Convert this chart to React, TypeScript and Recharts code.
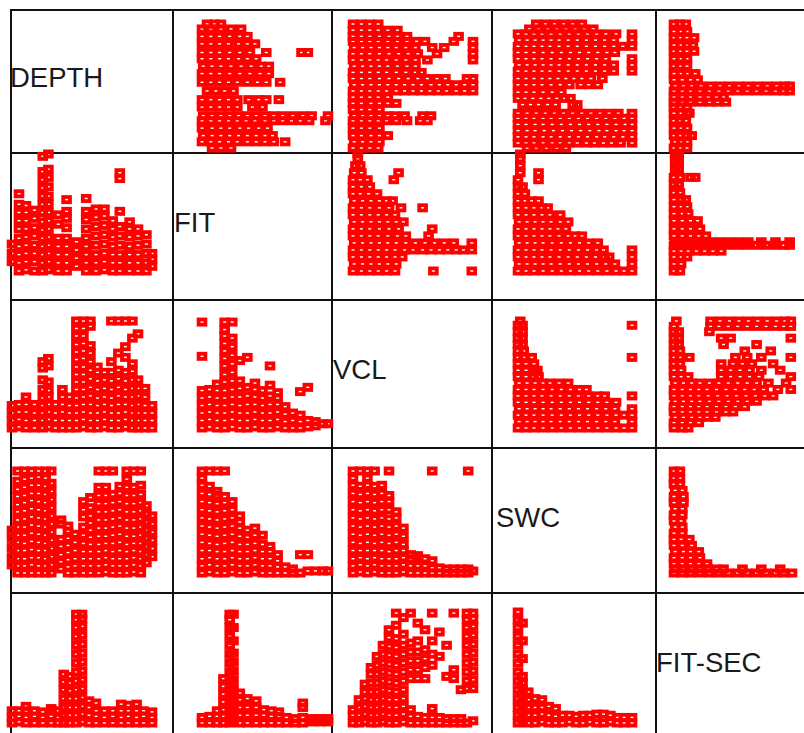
import { Scatter, ScatterChart, XAxis, YAxis } from "recharts";

const VARIABLES = ["DEPTH", "FIT", "VCL", "SWC", "FIT-SEC"];

// each column: [value of the lower-index variable, values of the higher-index variable]
type Column = [number, number[]];

const DEPTH_FIT: Column[] = [
	[0, [8, 15, 23]],
	[5, [0, 7, 14, 21, 28, 36, 43, 50, 57, 66]],
	[10, [1, 8, 15, 22, 29, 36, 43, 50, 56]],
	[16, [0, 8, 15, 22, 30, 37, 45, 52]],
	[22, [0, 7, 14, 21, 28, 35, 42, 50, 57, 64, 71, 78, 85, 98]],
	[26, [1, 8, 15, 22, 29, 36, 43, 50, 57, 64, 72, 80, 87, 100]],
	[33, [0, 7, 14, 21, 28, 40, 48]],
	[39, [0, 7, 14, 21, 28, 37, 45, 51, 61]],
	[46, [4, 11, 18, 25]],
	[53, [0, 7, 14, 21, 28, 36, 44, 51, 62]],
	[60, [0, 7, 14, 22, 30, 38, 46, 53]],
	[66, [1, 8, 15, 23, 31, 39, 47, 53]],
	[72, [0, 7, 14, 21, 29, 36, 43]],
	[77, [0, 7, 14, 22, 30, 38, 51, 79, 84]],
	[84, [0, 7, 14, 21, 29, 36, 42]],
	[90, [0, 7, 14, 22, 30, 36]],
	[96, [0, 7, 15, 23, 31]],
	[100, [4, 10, 15]],
];

const DEPTH_VCL: Column[] = [
	[0, [0, 7, 14, 21]],
	[5, [1, 8, 15, 22]],
	[10, [0, 7, 15, 22, 29]],
	[16, [0, 7, 14, 22]],
	[22, [0, 7, 14, 21, 28, 36, 45, 56, 62]],
	[26, [1, 8, 15, 22, 29, 35, 43, 58, 65]],
	[31, [0, 7, 14, 22]],
	[36, [0, 7, 15, 22, 29, 36]],
	[41, [0, 7, 14, 21, 29]],
	[46, [0, 7, 14, 21, 28, 36, 43, 50, 57, 64, 71, 78, 86, 93, 100]],
	[51, [1, 8, 15, 22, 29, 36, 43, 50, 57, 65, 72, 79, 86, 93, 100]],
	[56, [0, 7, 14, 22, 30, 38, 46, 54, 62, 70, 77, 95, 100]],
	[61, [0, 7, 14, 21, 28, 36, 44, 52, 57]],
	[66, [1, 8, 15, 22, 29, 37, 45, 52]],
	[71, [0, 7, 14, 21, 28, 36, 44, 52, 62, 100]],
	[76, [0, 7, 14, 22, 30, 38, 46, 54, 70, 100]],
	[81, [1, 8, 15, 22, 29, 36, 44, 52, 66, 76, 100]],
	[86, [0, 7, 14, 21, 29, 37, 45, 53, 60, 84, 100]],
	[90, [0, 7, 14, 22, 30, 37, 45, 88]],
	[95, [0, 7, 14, 21, 29, 37]],
	[100, [0, 7, 14, 21]],
];

const DEPTH_SWC: Column[] = [
	[0, [8, 16, 25, 34, 42]],
	[4, [0, 7, 14, 22, 30, 37, 45, 52, 60, 67, 75, 82, 90, 100]],
	[9, [0, 7, 14, 22, 29, 37, 45, 53, 61, 69, 76, 84, 92, 100]],
	[14, [0, 8, 15, 23, 31, 39, 47, 55, 63, 71, 78, 86, 93, 100]],
	[19, [0, 7, 15, 22, 30, 38, 46, 54, 62, 70, 78, 86, 94, 100]],
	[24, [0, 7, 14, 22, 29, 37, 45, 53, 61, 69, 77, 85, 93, 100]],
	[28, [0, 8, 16, 24, 32, 40, 48, 56, 64, 72, 80, 88, 100]],
	[35, [4, 11, 18, 26, 33, 48, 52]],
	[40, [0, 6, 13, 20, 27, 34, 41, 46]],
	[45, [0, 7, 14, 22, 30, 38]],
	[51, [0, 7, 14, 21, 29, 37, 45, 55, 62, 70]],
	[56, [0, 7, 14, 21, 28, 35, 42, 49, 56, 64, 74]],
	[62, [0, 7, 14, 21, 28, 36, 44, 52, 60, 68, 76, 84, 100]],
	[67, [1, 8, 15, 22, 29, 36, 44, 52, 60, 68, 76, 84, 100]],
	[72, [0, 7, 14, 21, 29, 37, 45, 53, 61, 69, 77, 100]],
	[77, [0, 7, 14, 22, 30, 38, 46, 54, 62, 70, 78, 85]],
	[82, [0, 7, 14, 21, 28, 36, 44, 52, 60, 68, 76, 84, 92, 100]],
	[87, [1, 8, 15, 22, 29, 36, 44, 52, 60, 68, 76, 84, 100]],
	[92, [0, 7, 14, 21, 29, 37, 45, 53, 61, 69, 77, 86, 100]],
	[96, [10, 18, 26, 34, 42, 50, 58, 66]],
	[100, [16, 24, 32, 40, 48, 56]],
];

const DEPTH_FITSEC: Column[] = [
	[0, [0, 5, 11]],
	[5, [1, 6, 11]],
	[10, [0, 5, 11, 15]],
	[16, [0, 6, 11]],
	[22, [0, 5, 10]],
	[28, [0, 6, 11, 13]],
	[33, [0, 5, 11]],
	[37, [0, 7, 14, 22, 30, 37, 44]],
	[41, [0, 7, 14, 22, 29, 36, 42]],
	[46, [0, 7, 14, 22, 30, 38, 46, 54, 62, 70, 78, 86, 93, 98]],
	[50, [1, 8, 15, 23, 31, 39, 47, 55, 63, 71, 79, 87, 94, 98]],
	[55, [0, 7, 14, 20]],
	[60, [0, 6, 11, 18]],
	[66, [0, 5, 11]],
	[72, [0, 6, 11]],
	[78, [0, 5, 11, 17]],
	[83, [0, 6, 11, 16]],
	[89, [0, 5, 11, 17]],
	[94, [0, 6, 11]],
	[100, [0, 5, 10]],
];

const FIT_VCL: Column[] = [
	[0, [0, 7, 14, 21, 28, 35, 67, 99]],
	[6, [1, 8, 15, 22, 29, 36]],
	[12, [0, 7, 14, 21, 28, 35, 41]],
	[18, [0, 7, 14, 21, 28, 35, 43, 50, 58, 65, 72, 79, 86, 92, 99]],
	[24, [1, 8, 15, 22, 29, 36, 44, 52, 60, 68, 76, 84, 99]],
	[30, [0, 7, 14, 21, 29, 37, 44, 63]],
	[36, [0, 7, 14, 22, 30, 38, 66]],
	[42, [1, 8, 15, 22, 29, 36, 42]],
	[48, [0, 7, 14, 21, 28, 35]],
	[54, [0, 7, 14, 22, 30, 40, 58]],
	[60, [1, 8, 15, 22, 28, 33]],
	[66, [0, 6, 13, 20]],
	[72, [0, 7, 14]],
	[78, [0, 6, 12, 34]],
	[84, [1, 7, 38]],
	[90, [2, 6]],
	[96, [4]],
	[100, [4]],
];

const FIT_SWC: Column[] = [
	[0, [0, 7, 14, 22, 30, 38, 46, 54, 62, 70, 78, 86, 93, 100]],
	[6, [1, 8, 15, 22, 29, 37, 45, 53, 61, 69, 77, 85, 100]],
	[12, [0, 7, 14, 21, 28, 36, 44, 52, 60, 68, 76, 80, 100]],
	[18, [0, 7, 14, 21, 29, 37, 45, 53, 61, 69, 75, 100]],
	[24, [1, 8, 15, 22, 30, 38, 46, 54, 62, 70]],
	[30, [0, 7, 14, 21, 28, 36, 44, 50, 56]],
	[36, [0, 7, 14, 21, 28, 35, 42]],
	[42, [1, 8, 15, 22, 29, 37, 44]],
	[48, [0, 7, 14, 21, 28, 37]],
	[54, [0, 7, 14, 21, 26]],
	[60, [0, 6, 12, 18]],
	[66, [0, 6]],
	[72, [0, 4]],
	[78, [0, 18]],
	[84, [2, 18]],
	[90, [2]],
	[96, [2]],
	[100, [2]],
];

const FIT_FITSEC: Column[] = [
	[0, [0, 5]],
	[6, [0, 6]],
	[12, [0, 6, 11]],
	[17, [0, 6, 12, 19, 26, 33, 40]],
	[22, [0, 7, 14, 22, 30, 38, 46, 54, 62, 70, 78, 86, 93, 98]],
	[25, [1, 8, 15, 23, 31, 39, 47, 55, 63, 74, 86, 98]],
	[30, [0, 7, 14, 21, 27]],
	[36, [0, 7, 14, 22]],
	[43, [0, 7, 14, 20]],
	[49, [0, 7, 12]],
	[55, [0, 6, 11]],
	[61, [0, 6, 10]],
	[67, [0, 5]],
	[74, [0, 4]],
	[80, [0, 5, 14, 18]],
	[87, [1, 4]],
	[94, [1, 4]],
	[100, [1, 4]],
];

const VCL_SWC: Column[] = [
	[0, [0, 7, 14, 22, 30, 38, 46, 54, 62, 70, 78, 86, 93, 100]],
	[6, [1, 8, 15, 22, 29, 37, 45, 53, 61, 69, 77, 85, 100]],
	[12, [0, 7, 14, 22, 30, 38, 46, 54, 62, 70, 78, 86, 93, 100]],
	[18, [1, 8, 15, 22, 29, 37, 45, 53, 61, 69, 77, 85, 100]],
	[24, [0, 7, 14, 22, 30, 38, 46, 54, 62, 70, 78, 86]],
	[30, [0, 7, 14, 21, 29, 37, 45, 53, 62, 70, 76, 100]],
	[36, [0, 7, 14, 22, 30, 38, 46, 54, 60]],
	[42, [1, 8, 15, 22, 28, 36, 44]],
	[48, [0, 7, 14, 18]],
	[54, [0, 7, 14, 17]],
	[60, [0, 7, 14]],
	[66, [0, 5, 12, 100]],
	[72, [0, 5]],
	[78, [0, 4]],
	[84, [0, 4]],
	[90, [0, 4]],
	[96, [0, 4, 100]],
	[100, [2]],
];

const VCL_FITSEC: Column[] = [
	[0, [0, 7, 12]],
	[5, [0, 7, 14, 21]],
	[10, [1, 8, 15, 22, 28, 35]],
	[15, [0, 7, 14, 21, 28, 36, 44, 50]],
	[20, [0, 7, 14, 21, 28, 36, 44, 52, 60]],
	[25, [1, 8, 15, 22, 30, 38, 46, 54, 62, 70]],
	[30, [0, 7, 14, 21, 29, 37, 45, 53, 61, 69, 77, 84]],
	[36, [0, 7, 14, 21, 28, 36, 44, 52, 60, 68, 76, 88, 99]],
	[42, [1, 8, 15, 22, 30, 38, 46, 54, 62, 70, 80, 95]],
	[48, [0, 6, 12, 40, 48, 56, 64, 72, 99]],
	[54, [0, 6, 40, 48, 56, 64, 74, 90]],
	[60, [0, 5, 40, 50, 58, 66, 84]],
	[66, [0, 5, 13, 52, 62, 74, 99]],
	[72, [0, 5, 60, 82]],
	[78, [0, 4, 42, 70]],
	[84, [0, 4, 40, 48, 99]],
	[90, [0, 4, 30]],
	[95, [0, 31, 38, 46, 54, 62, 70, 78, 86, 93, 99]],
	[100, [2, 31, 39, 47, 55, 63, 71, 79, 87, 94, 99]],
];

const SWC_FITSEC: Column[] = [
	[0, [0, 7, 14, 22, 30, 38, 46, 54, 62, 70, 78, 86, 93, 100]],
	[4, [1, 8, 15, 22, 29, 36, 42, 58, 74, 90]],
	[9, [0, 7, 14, 21, 28]],
	[15, [0, 7, 14, 22]],
	[21, [1, 8, 14, 21]],
	[27, [0, 7, 15]],
	[33, [0, 6, 13]],
	[39, [0, 7]],
	[45, [1, 7]],
	[51, [0, 6]],
	[57, [0, 7]],
	[63, [1, 7]],
	[69, [0, 8]],
	[75, [0, 8]],
	[81, [1, 7]],
	[87, [0, 5]],
	[93, [0, 5]],
	[100, [0, 5]],
];

const PAIR_COLUMNS: Record<string, Column[]> = {
	"0,1": DEPTH_FIT,
	"0,2": DEPTH_VCL,
	"0,3": DEPTH_SWC,
	"0,4": DEPTH_FITSEC,
	"1,2": FIT_VCL,
	"1,3": FIT_SWC,
	"1,4": FIT_FITSEC,
	"2,3": VCL_SWC,
	"2,4": VCL_FITSEC,
	"3,4": SWC_FITSEC,
};

// layout of the matrix (page pixels)
const COL_SPAN = [
	[12, 152],
	[202, 328],
	[353, 473],
	[518, 632],
	[674, 792],
];
const ROW_SPAN = [
	[24, 148],
	[154, 271],
	[321, 428],
	[471, 573],
	[612, 723],
];
const GRID_X = [11, 173, 332, 492, 656];
const GRID_Y = [10, 153, 300, 448, 593];
const LABEL_POS = [
	[10, 87],
	[174, 232],
	[333, 379],
	[496, 527],
	[656, 672],
];
const PAD_X = 7;
const PAD_Y = 6;
const RED = "#ff0000";

function cellPoints(row: number, col: number): { x: number; y: number }[] {
	const a = Math.min(row, col);
	const b = Math.max(row, col);
	const points: { x: number; y: number }[] = [];
	for (const [u, vs] of PAIR_COLUMNS[`${a},${b}`]) {
		for (const v of vs) {
			points.push(col === a ? { x: u, y: v } : { x: v, y: u });
		}
	}
	return points;
}

// thick-edged hollow square, as in the original plot
function HollowSquare(props: { cx?: number; cy?: number }): React.ReactElement {
	const { cx = 0, cy = 0 } = props;
	return (
		<rect
			x={cx - 3.4}
			y={cy - 2.6}
			width={6.8}
			height={5.2}
			fill="none"
			stroke={RED}
			strokeWidth={3.8}
		/>
	);
}

function MatrixCell({ row, col }: { row: number; col: number }): React.ReactElement {
	const [x0, x1] = COL_SPAN[col];
	const [y0, y1] = ROW_SPAN[row];
	return (
		<div style={{ position: "absolute", left: x0 - PAD_X, top: y0 - PAD_Y }}>
			<ScatterChart
				width={x1 - x0 + PAD_X * 2}
				height={y1 - y0 + PAD_Y * 2}
				margin={{ top: PAD_Y, right: PAD_X, bottom: PAD_Y, left: PAD_X }}
			>
				<XAxis type="number" dataKey="x" domain={[0, 100]} hide />
				<YAxis type="number" dataKey="y" domain={[0, 100]} hide />
				<Scatter data={cellPoints(row, col)} isAnimationActive={false} shape={HollowSquare} />
			</ScatterChart>
		</div>
	);
}

export default function App(): React.ReactElement {
	const cells: React.ReactElement[] = [];
	VARIABLES.forEach((_, row) => {
		VARIABLES.forEach((__, col) => {
			if (row !== col) cells.push(<MatrixCell key={`${row}-${col}`} row={row} col={col} />);
		});
	});

	return (
		<div
			style={{
				position: "absolute",
				left: 0,
				top: 0,
				width: 804,
				height: 733,
				background: "#fff",
				overflow: "hidden",
			}}
		>
			<svg width={804} height={733} style={{ position: "absolute", left: 0, top: 0 }}>
				{GRID_X.map((x) => (
					<line key={`v${x}`} x1={x} y1={GRID_Y[0] - 1} x2={x} y2={733} stroke="#111" strokeWidth={2} />
				))}
				{GRID_Y.map((y) => (
					<line key={`h${y}`} x1={GRID_X[0] - 1} y1={y} x2={804} y2={y} stroke="#111" strokeWidth={2} />
				))}
				{VARIABLES.map((name, i) => (
					<text
						key={name}
						x={LABEL_POS[i][0]}
						y={LABEL_POS[i][1]}
						fontFamily="'Liberation Sans', Arial, sans-serif"
						fontSize={27.5}
						fill="#1a1a1a"
					>
						{name}
					</text>
				))}
			</svg>
			{cells}
		</div>
	);
}
